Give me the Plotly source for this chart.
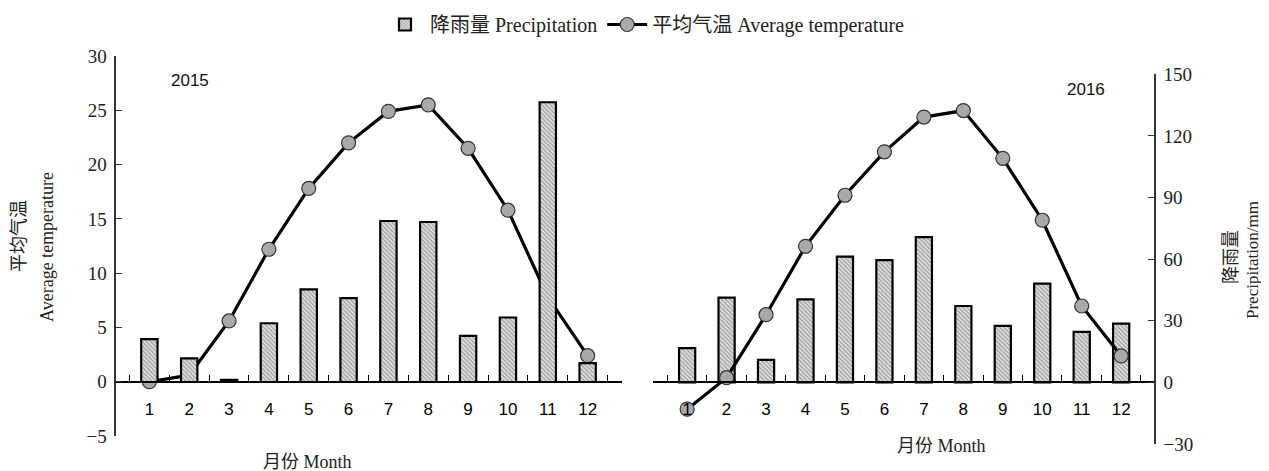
import plotly.graph_objects as go

months = [str(m) for m in range(1, 13)]
precip_2015 = [20.9, 11.5, 1.0, 28.6, 45.1, 40.8, 78.4, 77.9, 22.5, 31.4, 136.2, 9.2]
temp_2015 = [0.0, 0.6, 5.6, 12.2, 17.8, 22.0, 24.9, 25.5, 21.5, 15.8, 7.8, 2.4]
precip_2016 = [16.7, 41.3, 11.0, 40.4, 61.2, 59.5, 70.7, 37.2, 27.5, 48.1, 24.6, 28.6]
temp_2016 = [-2.5, 0.4, 6.2, 12.5, 17.2, 21.2, 24.4, 25.0, 20.6, 14.9, 7.0, 2.4]
temp_ticks = [-5, 0, 5, 10, 15, 20, 25, 30]
precip_ticks = [-30, 0, 30, 60, 90, 120, 150]

OFF = 8  # page body margin
W, H = 1269 - OFF, 471 - OFF
SERIF = "Liberation Serif, Times New Roman, Noto Sans CJK SC"
SANS = "Liberation Sans, Arial, sans-serif"


def px(x):
    return (x - OFF) / W


def py(y):
    return (H - (y - OFF)) / H


bar_style = dict(
    color="#d9d9d9",
    line=dict(color="black", width=2.2),
    pattern=dict(shape="\\", fgcolor="#555555", bgcolor="#e0e0e0", size=3, solidity=0.4),
)
line_style = dict(color="black", width=3.2)
marker_style = dict(size=14, color="#a9a9a9", line=dict(color="#333", width=1.2))

fig = go.Figure()
fig.add_trace(go.Bar(x=months, y=precip_2015, xaxis="x", yaxis="y3", width=0.41,
                     marker=bar_style, name="降雨量 Precipitation", legendrank=1))
fig.add_trace(go.Scatter(x=months, y=temp_2015, xaxis="x", yaxis="y", mode="lines+markers",
                         line=line_style, marker=marker_style,
                         name="平均气温 Average temperature", legendrank=2))
fig.add_trace(go.Bar(x=months, y=precip_2016, xaxis="x2", yaxis="y2", width=0.41,
                     marker=bar_style, showlegend=False))
fig.add_trace(go.Scatter(x=months, y=temp_2016, xaxis="x2", yaxis="y4", mode="lines+markers",
                         line=line_style, marker=marker_style, showlegend=False))

# panel geometry (pixels in the page)
L_x0, L_x1 = 115.3, 621.7
R_x0, R_x1 = 653.3, 1155.0
L_top, L_bot = 56.0, 436.0
R_top, R_bot = 74.3, 444.0
zero_y = 382.0

xaxis_common = dict(type="category", showline=True, linecolor="black", linewidth=1.5,
                    ticks="inside", ticklen=6, tickcolor="black", tickson="boundaries",
                    tickfont=dict(family=SANS, size=17, color="black"),
                    anchor="free", position=py(zero_y), showgrid=False, zeroline=False,
                    ticklabelstandoff=12, fixedrange=True, automargin=False)

t_scale = (L_bot - L_top) / 35.0  # px per degree
p_scale = (R_bot - R_top) / 180.0  # px per mm

fig.update_layout(
    width=W, height=H,
    margin=dict(l=0, r=0, t=0, b=0, autoexpand=False),
    paper_bgcolor="white", plot_bgcolor="rgba(0,0,0,0)",
    bargap=0.5,
    xaxis=dict(domain=[px(L_x0), px(L_x1)], **xaxis_common),
    xaxis2=dict(domain=[px(R_x0), px(R_x1)], **xaxis_common),
    yaxis=dict(domain=[py(L_bot), py(L_top)], range=[-5, 30], tickvals=temp_ticks,
               showline=True, linecolor="#333", linewidth=1.5, ticks="inside", ticklen=6,
               tickcolor="#333", showgrid=False, zeroline=False, anchor="free", position=px(L_x0),
               automargin=False, ticklabelstandoff=4,
               tickfont=dict(family=SERIF, size=19, color="#222")),
    yaxis3=dict(domain=[py(L_bot), py(L_top)], overlaying="y", anchor="x",
                range=[-(L_bot - zero_y) / p_scale, (zero_y - L_top) / p_scale],
                visible=False, showgrid=False, zeroline=False),
    yaxis2=dict(domain=[py(R_bot), py(R_top)], range=[-30, 150], tickvals=precip_ticks,
                side="right", anchor="free", position=px(R_x1),
                showline=True, linecolor="#333", linewidth=1.5, ticks="inside", ticklen=6,
                tickcolor="#333", showgrid=False, zeroline=False, automargin=False,
                ticklabelstandoff=4,
                tickfont=dict(family=SERIF, size=19, color="#222")),
    yaxis4=dict(domain=[py(R_bot), py(R_top)], overlaying="y2", anchor="x2",
                range=[-(R_bot - zero_y) / t_scale, (zero_y - R_top) / t_scale],
                visible=False, showgrid=False, zeroline=False),
    legend=dict(orientation="h", x=px(645), xanchor="center", y=py(5), yanchor="top",
                font=dict(family=SERIF, size=20, color="#222"), traceorder="normal",
                itemwidth=40, bgcolor="rgba(0,0,0,0)"),
    showlegend=True,
)

annos = [
    dict(x=px(190), y=py(80), text="2015", font=dict(family=SANS, size=17, color="#111")),
    dict(x=px(1086), y=py(89), text="2016", font=dict(family=SANS, size=17, color="#111")),
    dict(x=px(307), y=py(462), text="月份 Month", font=dict(family=SERIF, size=18, color="#222")),
    dict(x=px(941), y=py(446), text="月份 Month", font=dict(family=SERIF, size=18, color="#222")),
    dict(x=px(19), y=py(236), text="平均气温", textangle=-90, font=dict(family=SERIF, size=18, color="#222")),
    dict(x=px(47), y=py(247), text="Average temperature", textangle=-90, font=dict(family=SERIF, size=18, color="#222")),
    dict(x=px(1231), y=py(257), text="降雨量", textangle=-90, font=dict(family=SERIF, size=18, color="#222")),
    dict(x=px(1252), y=py(260), text="Precipitation/mm", textangle=-90, font=dict(family=SERIF, size=17, color="#222")),
]
for a in annos:
    fig.add_annotation(xref="paper", yref="paper", showarrow=False, xanchor="center", yanchor="middle", **a)

fig.write_html("out.html")
